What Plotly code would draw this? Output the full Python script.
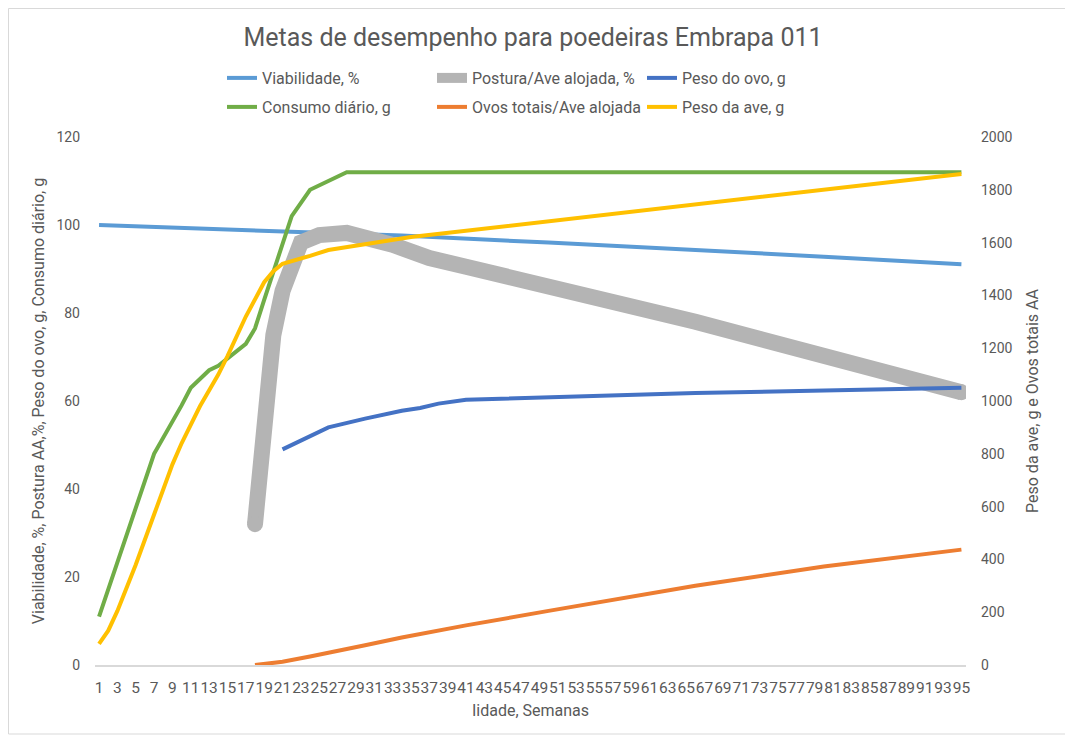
import plotly.graph_objects as go

# ---------------- data ----------------
weeks_viab = [1, 10, 20, 34, 50, 66, 80, 95]
viabilidade = [100, 99.4, 98.7, 97.6, 96.0, 94.4, 92.8, 91.1]

weeks_post = [18, 19, 20, 21, 22, 23, 25, 28, 33, 37, 41, 66, 95]
postura = [32, 53, 75, 85, 92, 96, 97.7, 98.2, 95.5, 92.5, 90.5, 78, 62]

weeks_ovo = [21, 26, 30, 34, 36, 38, 41, 66, 95]
peso_ovo = [49, 54, 56, 57.8, 58.4, 59.4, 60.3, 61.8, 63]

weeks_cons = [1, 7, 10, 11, 13, 14, 17, 18, 19, 22, 24, 28, 95]
consumo = [11, 48, 59, 63, 67, 68, 73, 76.5, 83, 102, 108, 112, 112]

weeks_ovos = [18, 21, 24, 27, 30, 34, 41, 50, 66, 80, 95]
ovos_totais = [0, 12, 32, 55, 75, 104, 150, 205, 300, 373, 437]

weeks_ave = [1, 2, 3, 5, 7, 9, 10, 12, 14, 15, 17, 19, 20, 21, 24, 26, 35, 95]
peso_ave = [80, 130, 205, 380, 570, 760, 840, 980, 1100, 1170, 1320, 1450, 1492, 1520, 1550, 1572, 1621, 1860]

tick_weeks = list(range(1, 96, 2))

names = ["Viabilidade, %", "Postura/Ave alojada, %", "Peso do ovo, g",
         "Consumo diário, g", "Ovos totais/Ave alojada", "Peso da ave, g"]
colors = ["#5B9BD5", "#B4B4B4", "#4472C4", "#70AD47", "#ED7D31", "#FFC000"]

TXT = "#595959"
FONT = "Roboto"

fig = go.Figure()

fig.add_trace(go.Scatter(x=weeks_viab, y=viabilidade, name=names[0], mode="lines",
                         line=dict(color=colors[0], width=4), legend="legend"))
fig.add_trace(go.Scatter(x=weeks_post, y=postura, name=names[1], mode="lines",
                         line=dict(color=colors[1], width=16), legend="legend"))
# round end caps for the thick gray line
fig.add_trace(go.Scatter(x=[weeks_post[0], weeks_post[-1]], y=[postura[0], postura[-1]],
                         mode="markers", marker=dict(color=colors[1], size=16),
                         showlegend=False, hoverinfo="skip"))
fig.add_trace(go.Scatter(x=weeks_ovo, y=peso_ovo, name=names[2], mode="lines",
                         line=dict(color=colors[2], width=4), legend="legend"))
fig.add_trace(go.Scatter(x=weeks_cons, y=consumo, name=names[3], mode="lines",
                         line=dict(color=colors[3], width=4), legend="legend2"))
fig.add_trace(go.Scatter(x=weeks_ovos, y=ovos_totais, name=names[4], mode="lines",
                         line=dict(color=colors[4], width=4), yaxis="y2", legend="legend2"))
fig.add_trace(go.Scatter(x=weeks_ave, y=peso_ave, name=names[5], mode="lines",
                         line=dict(color=colors[5], width=4), yaxis="y2", legend="legend2"))

W, H = 1073, 739
OFF = 8  # page body margin offset
ml, mt = 95 - OFF, 137 - OFF
mr = W - (966 - OFF)
mb = H - (665 - OFF)
pw, ph = W - ml - mr, H - mt - mb

legend_common = dict(orientation="h", xref="container", yref="container",
                     x=214 / W, xanchor="left", yanchor="middle",
                     entrywidth=165, entrywidthmode="pixels",
                     font=dict(family=FONT, size=16, color=TXT),
                     bgcolor="rgba(0,0,0,0)", itemwidth=30)

fig.update_layout(
    width=W, height=H,
    margin=dict(l=ml, r=mr, t=mt, b=mb, autoexpand=False),
    paper_bgcolor="white", plot_bgcolor="white",
    font=dict(family=FONT, color=TXT),
    title=dict(text="Metas de desempenho para poedeiras Embrapa 011",
               x=(533 - OFF) / W, xref="container", xanchor="center",
               y=1 - 29 / H, yref="container", yanchor="middle",
               font=dict(family=FONT, size=25, color=TXT)),
    legend=dict(**legend_common, y=1 - 70 / H),
    legend2=dict(**legend_common, y=1 - 99 / H),
    xaxis=dict(range=[0.56, 95.5], tickmode="array", tickvals=tick_weeks,
               ticktext=[str(t) for t in tick_weeks], tickangle=0, automargin=False,
               showgrid=False, zeroline=False, showline=True, linecolor="#D9D9D9",
               linewidth=1.5, ticks="", ticklabelstandoff=8,
               tickfont=dict(family=FONT, size=15.5, color=TXT),
               title=dict(text="Iidade, Semanas", standoff=8,
                          font=dict(family=FONT, size=16, color=TXT))),
    yaxis=dict(range=[0, 120], dtick=20, showgrid=False, zeroline=False, automargin=False,
               showline=False, ticks="", ticklabelstandoff=14,
               tickfont=dict(family=FONT, size=14, color=TXT),
               title=dict(text="Viabilidade, %, Postura AA,%, Peso do ovo, g, Consumo diário, g",
                          standoff=7, font=dict(family=FONT, size=16, color=TXT))),
    yaxis2=dict(range=[0, 2000], dtick=200, overlaying="y", side="right", automargin=False,
                showgrid=False, zeroline=False, showline=False, ticks="",
                ticklabelstandoff=14,
                tickfont=dict(family=FONT, size=14, color=TXT),
                title=dict(text="Peso da ave, g e Ovos totais AA", standoff=15,
                           font=dict(family=FONT, size=16, color=TXT))),
    shapes=[dict(type="rect", xref="paper", yref="paper",
                 x0=(0.5 - ml) / pw, x1=(1066 - OFF - ml) / pw,
                 y0=(H - mb - (734 - OFF)) / ph, y1=(H - mb - 0.5) / ph,
                 line=dict(color="#D9D9D9", width=1), fillcolor="rgba(0,0,0,0)",
                 layer="below")],
)

fig.write_html("out.html")
